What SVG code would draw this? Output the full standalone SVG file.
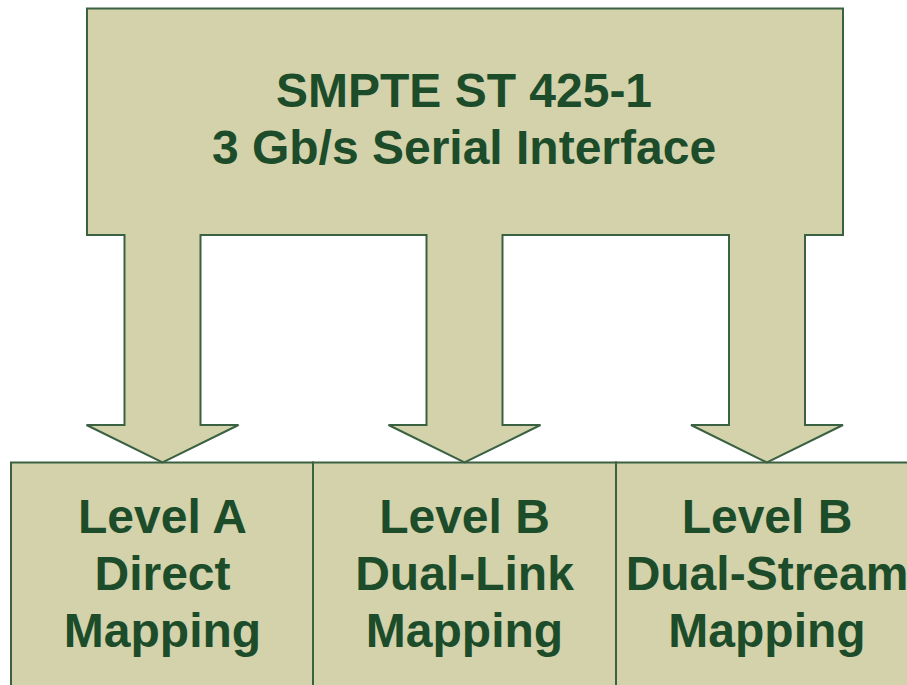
<svg xmlns="http://www.w3.org/2000/svg" width="907" height="685" viewBox="0 0 907 685">
  <style>
    .shape { fill: #d3d2ab; stroke: #3a6142; stroke-width: 2; stroke-linejoin: miter; }
    .label { font-family: "Liberation Sans", Arial, sans-serif; font-weight: bold; font-size: 48px; fill: #1c4c2a; text-anchor: middle; }
  </style>
  <rect width="907" height="685" fill="#ffffff"/>

  <!-- Lower row: the three mappings -->
  <g id="level-a">
    <rect class="shape" x="11" y="462.5" width="302" height="230"/>
    <text class="label" x="162.5" y="532.5">Level A</text>
    <text class="label" x="162.5" y="589.5">Direct</text>
    <text class="label" x="162.5" y="646.5">Mapping</text>
  </g>
  <g id="level-b-dual-link">
    <rect class="shape" x="313" y="462.5" width="303" height="230"/>
    <text class="label" x="464.5" y="532.5">Level B</text>
    <text class="label" x="464.5" y="589.5">Dual-Link</text>
    <text class="label" x="464.5" y="646.5">Mapping</text>
  </g>
  <g id="level-b-dual-stream">
    <rect class="shape" x="616" y="462.5" width="302" height="230"/>
    <text class="label" x="767" y="532.5">Level B</text>
    <text class="label" x="767" y="589.5">Dual-Stream</text>
    <text class="label" x="767" y="646.5">Mapping</text>
  </g>

  <!-- Interface block -->
  <g id="st-425-1">
    <rect class="shape" x="87" y="8.5" width="756" height="226.5"/>
    <text class="label" x="464" y="106.5">SMPTE ST 425-1</text>
    <text class="label" x="464" y="163.5">3 Gb/s Serial Interface</text>
  </g>

  <!-- Block arrows; the open top merges each stem into the block above -->
  <g id="connectors">
    <path class="shape" d="M124.5,234 V425 H86.5 L162.5,462.5 L238.5,425 H200.5 V234"/>
    <path class="shape" d="M426.5,234 V425 H388.5 L464.5,462.5 L540.5,425 H502.5 V234"/>
    <path class="shape" d="M729,234 V425 H691 L767,462.5 L843,425 H805 V234"/>
  </g>
</svg>
